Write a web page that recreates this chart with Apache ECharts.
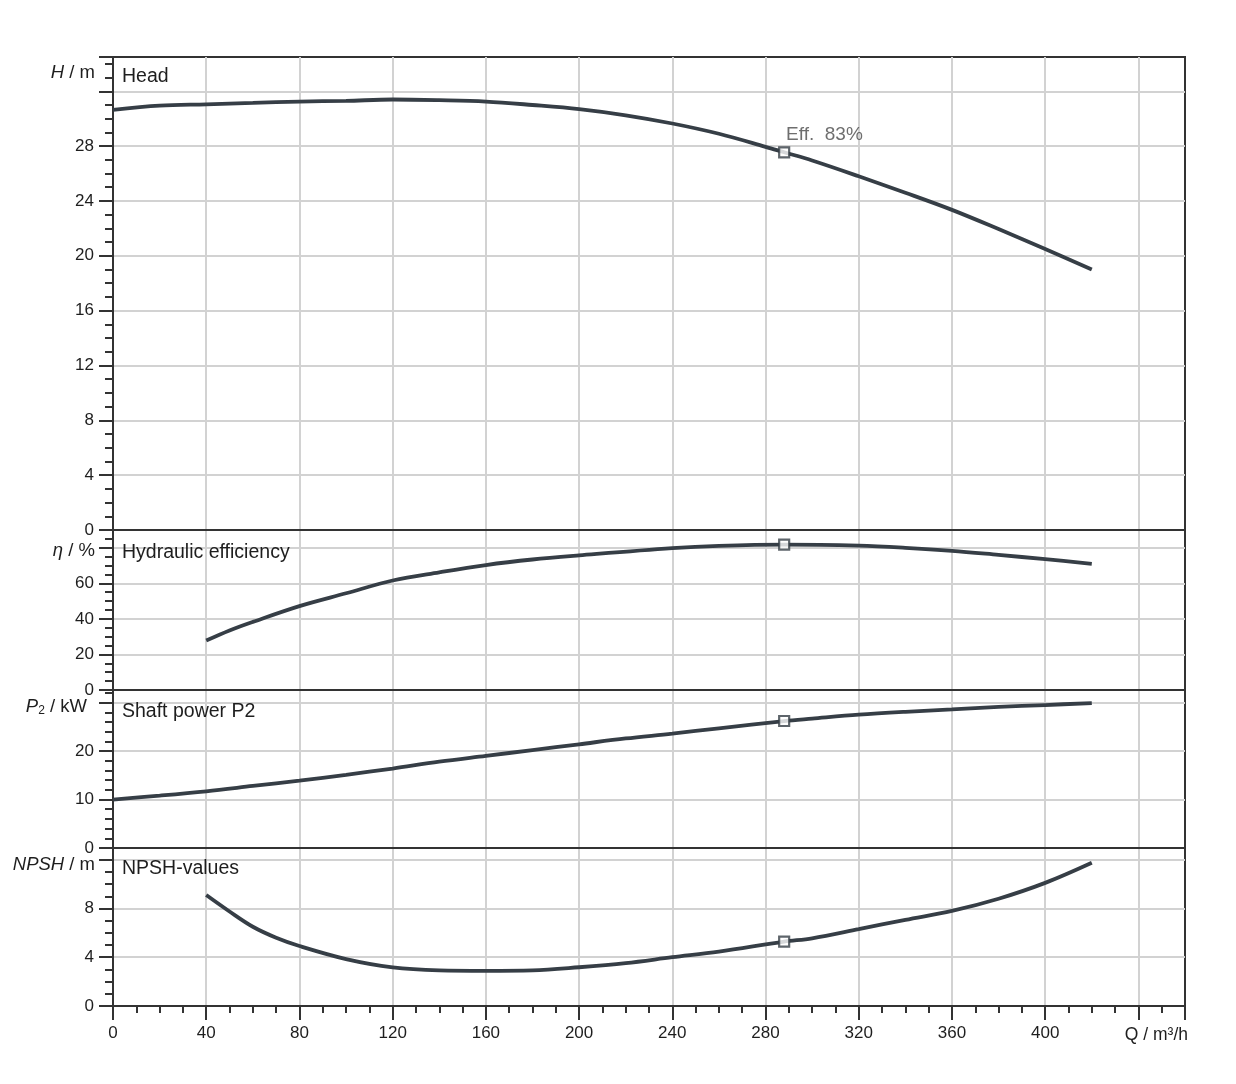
<!DOCTYPE html>
<html>
<head>
<meta charset="utf-8">
<script src="https://cdn.jsdelivr.net/npm/echarts/dist/echarts.min.js"></script>
<style>
html,body{margin:0;padding:0;background:#fff;}
#c{width:1236px;height:1084px;}
</style>
</head>
<body>
<div id="c"></div>
<script>
// ---------- data ----------
const flowHead = [0,20,40,60,80,100,120,140,160,180,200,220,240,260,280,288,300,320,340,360,380,400,420];
const headValues = [30.65,30.95,31.05,31.15,31.25,31.3,31.4,31.35,31.25,31.0,30.7,30.25,29.65,28.9,27.95,27.55,26.95,25.8,24.6,23.35,21.95,20.5,19.0];

const flowEff = [40,50,60,80,100,120,140,160,180,200,240,260,288,320,340,360,380,400,420];
const effValues = [27.8,33.5,38.3,47.2,54.4,61.6,66.2,70.3,73.4,75.7,79.8,81.1,81.8,81.2,80.0,78.3,76.0,73.6,71.0];

const flowPower = [0,20,40,60,80,100,120,140,160,180,200,220,240,260,288,300,320,340,360,380,400,420];
const powerValues = [10.0,10.8,11.7,12.8,13.9,15.1,16.4,17.8,19.0,20.2,21.4,22.6,23.6,24.7,26.2,26.7,27.5,28.1,28.6,29.1,29.5,29.9];

const flowNpsh = [40,50,60,70,80,100,120,140,160,180,200,220,240,260,288,300,320,340,360,380,400,420];
const npshValues = [9.1,7.75,6.5,5.6,4.92,3.85,3.17,2.92,2.88,2.92,3.18,3.52,4.0,4.46,5.28,5.55,6.3,7.07,7.8,8.8,10.1,11.75];

const bepFlow = 288;
const bepHead = 27.55;
const bepEff = 81.8;
const bepPower = 26.2;
const bepNpsh = 5.28;
const bepLabel = 'Eff.  83%';

const qTicks = [0,40,80,120,160,200,240,280,320,360,400];
const headTicks = [0,4,8,12,16,20,24,28];
const effTicks = [0,20,40,60];
const powerTicks = [0,10,20];
const npshTicks = [0,4,8];

const panelTitles = ['Head','Hydraulic efficiency','Shaft power P2','NPSH-values'];

// ---------- style ----------
const FONT = '"Liberation Sans", Arial, sans-serif';
const DARK = '#1e1e1e';
const LINE = '#363e46';
const GRIDC = '#d2d2d2';
const LEFT = 113, WIDTH = 1072;
const panels = [
  {top:57,  height:473, max:34.5, major:4,  minor:1, ticks:headTicks},
  {top:530, height:160, max:90,   major:20, minor:5, ticks:effTicks},
  {top:690, height:158, max:32.6, major:10, minor:2, ticks:powerTicks},
  {top:848, height:158, max:12.96,major:4,  minor:1, ticks:npshTicks}
];

const pairs = (xs, ys) => xs.map((x,i) => [x, ys[i]]);

const grids = panels.map(p => ({
  left: LEFT, top: p.top, width: WIDTH, height: p.height,
  show: true, borderColor: '#333', borderWidth: 2, backgroundColor: 'transparent',
  containLabel: false, outerBoundsMode: 'none'
}));

const xAxes = [];
panels.forEach((p, i) => {
  const bottom = i === panels.length - 1;
  xAxes.push({
    type: 'value', gridIndex: i, position: 'bottom', min: 0, max: 460, interval: 40,
    axisLine: {show: true, onZero: false, lineStyle: {color: '#333', width: 2}},
    axisTick: {show: bottom, length: 14, inside: false, lineStyle: {color: '#333', width: 2}},
    axisLabel: {show: bottom, margin: 19, color: DARK, fontSize: 17, fontFamily: FONT,
      formatter: v => qTicks.includes(v) ? String(v) : ''},
    splitLine: {show: true, showMinLine: false, showMaxLine: false, lineStyle: {color: GRIDC, width: 2}}
  });
});
// minor ticks for the bottom x axis
xAxes.push({
  type: 'value', gridIndex: 3, position: 'bottom', min: 0, max: 460, interval: 10,
  axisLine: {show: false, onZero: false},
  axisTick: {show: true, length: 7, inside: false, lineStyle: {color: '#333', width: 2}},
  axisLabel: {show: false}, splitLine: {show: false}
});

const yAxes = [];
panels.forEach((p, i) => {
  yAxes.push({
    type: 'value', gridIndex: i, position: 'left', min: 0, max: p.max, interval: p.major,
    axisLine: {show: true, onZero: false, lineStyle: {color: '#333', width: 2}},
    axisTick: {show: true, length: 14, inside: false, lineStyle: {color: '#333', width: 2}},
    axisLabel: {show: true, margin: 19, color: DARK, fontSize: 17, fontFamily: FONT,
      formatter: v => p.ticks.includes(v) ? String(v) : ''},
    splitLine: {show: true, showMinLine: false, showMaxLine: false, lineStyle: {color: GRIDC, width: 2}}
  });
  yAxes.push({
    type: 'value', gridIndex: i, position: 'left', min: 0, max: p.max, interval: p.minor,
    axisLine: {show: false, onZero: false},
    axisTick: {show: true, length: 8, inside: false, lineStyle: {color: '#333', width: 2}},
    axisLabel: {show: false}, splitLine: {show: false}
  });
});

const curve = (xi, yi, data) => ({
  type: 'line', xAxisIndex: xi, yAxisIndex: yi, data, smooth: 0.35,
  symbol: 'none', lineStyle: {color: LINE, width: 3.8}, z: 3, silent: true
});
const bep = (xi, yi, val, label) => ({
  type: 'scatter', xAxisIndex: xi, yAxisIndex: yi, data: [[bepFlow, val]],
  symbol: 'rect', symbolSize: 10, z: 5, silent: true,
  itemStyle: {color: '#fff', borderColor: LINE, borderWidth: 2.2},
  label: label ? {show: true, formatter: label, position: [8, -21], align: 'left', verticalAlign: 'top',
    color: '#4a4a4a', fontSize: 19, fontFamily: FONT} : {show: false}
});

const series = [
  curve(0, 0, pairs(flowHead, headValues)),
  curve(1, 2, pairs(flowEff, effValues)),
  curve(2, 4, pairs(flowPower, powerValues)),
  curve(3, 6, pairs(flowNpsh, npshValues)),
  bep(0, 0, bepHead, bepLabel),
  bep(1, 2, bepEff),
  bep(2, 4, bepPower),
  bep(3, 6, bepNpsh)
];

const titleY = [77, 553, 712, 869];
const graphics = panelTitles.map((t, i) => ({
  type: 'text', x: 122, y: titleY[i], z: 10,
  style: {text: t, fontSize: 19.5, fontFamily: FONT, fill: '#1e1e1e', align: 'left', verticalAlign: 'middle'}
}));
const unitRich = {
  i: {fontStyle: 'italic', fontSize: 18.5, fontFamily: FONT, fill: '#1e1e1e'},
  n: {fontSize: 18.5, fontFamily: FONT, fill: '#1e1e1e'},
  s: {fontSize: 12, fontFamily: FONT, fill: '#1e1e1e', padding: [8, 0, 0, 0]}
};
const units = [
  {text: '{i|H}{n| / m}', x: 95, y: 73},
  {text: '{i|η}{n| / %}', x: 95, y: 551},
  {text: '{i|P}{s|2}{n| / kW}', x: 87, y: 707},
  {text: '{i|NPSH}{n| / m}', x: 95, y: 865}
];
units.forEach(u => graphics.push({
  type: 'text', x: u.x, y: u.y, z: 10,
  style: {text: u.text, rich: unitRich, fontSize: 18.5, fontFamily: FONT, fill: '#1e1e1e', align: 'right', verticalAlign: 'middle'}
}));
graphics.push({
  type: 'text', x: 1188, y: 1035, z: 10,
  style: {text: 'Q / m³/h', fontSize: 17.5, fontFamily: FONT, fill: DARK, align: 'right', verticalAlign: 'middle'}
});

const chart = echarts.init(document.getElementById('c'), null, {renderer: 'canvas'});
chart.setOption({
  animation: false,
  backgroundColor: '#fff',
  grid: grids,
  xAxis: xAxes,
  yAxis: yAxes,
  series,
  graphic: graphics
});
</script>
</body>
</html>
